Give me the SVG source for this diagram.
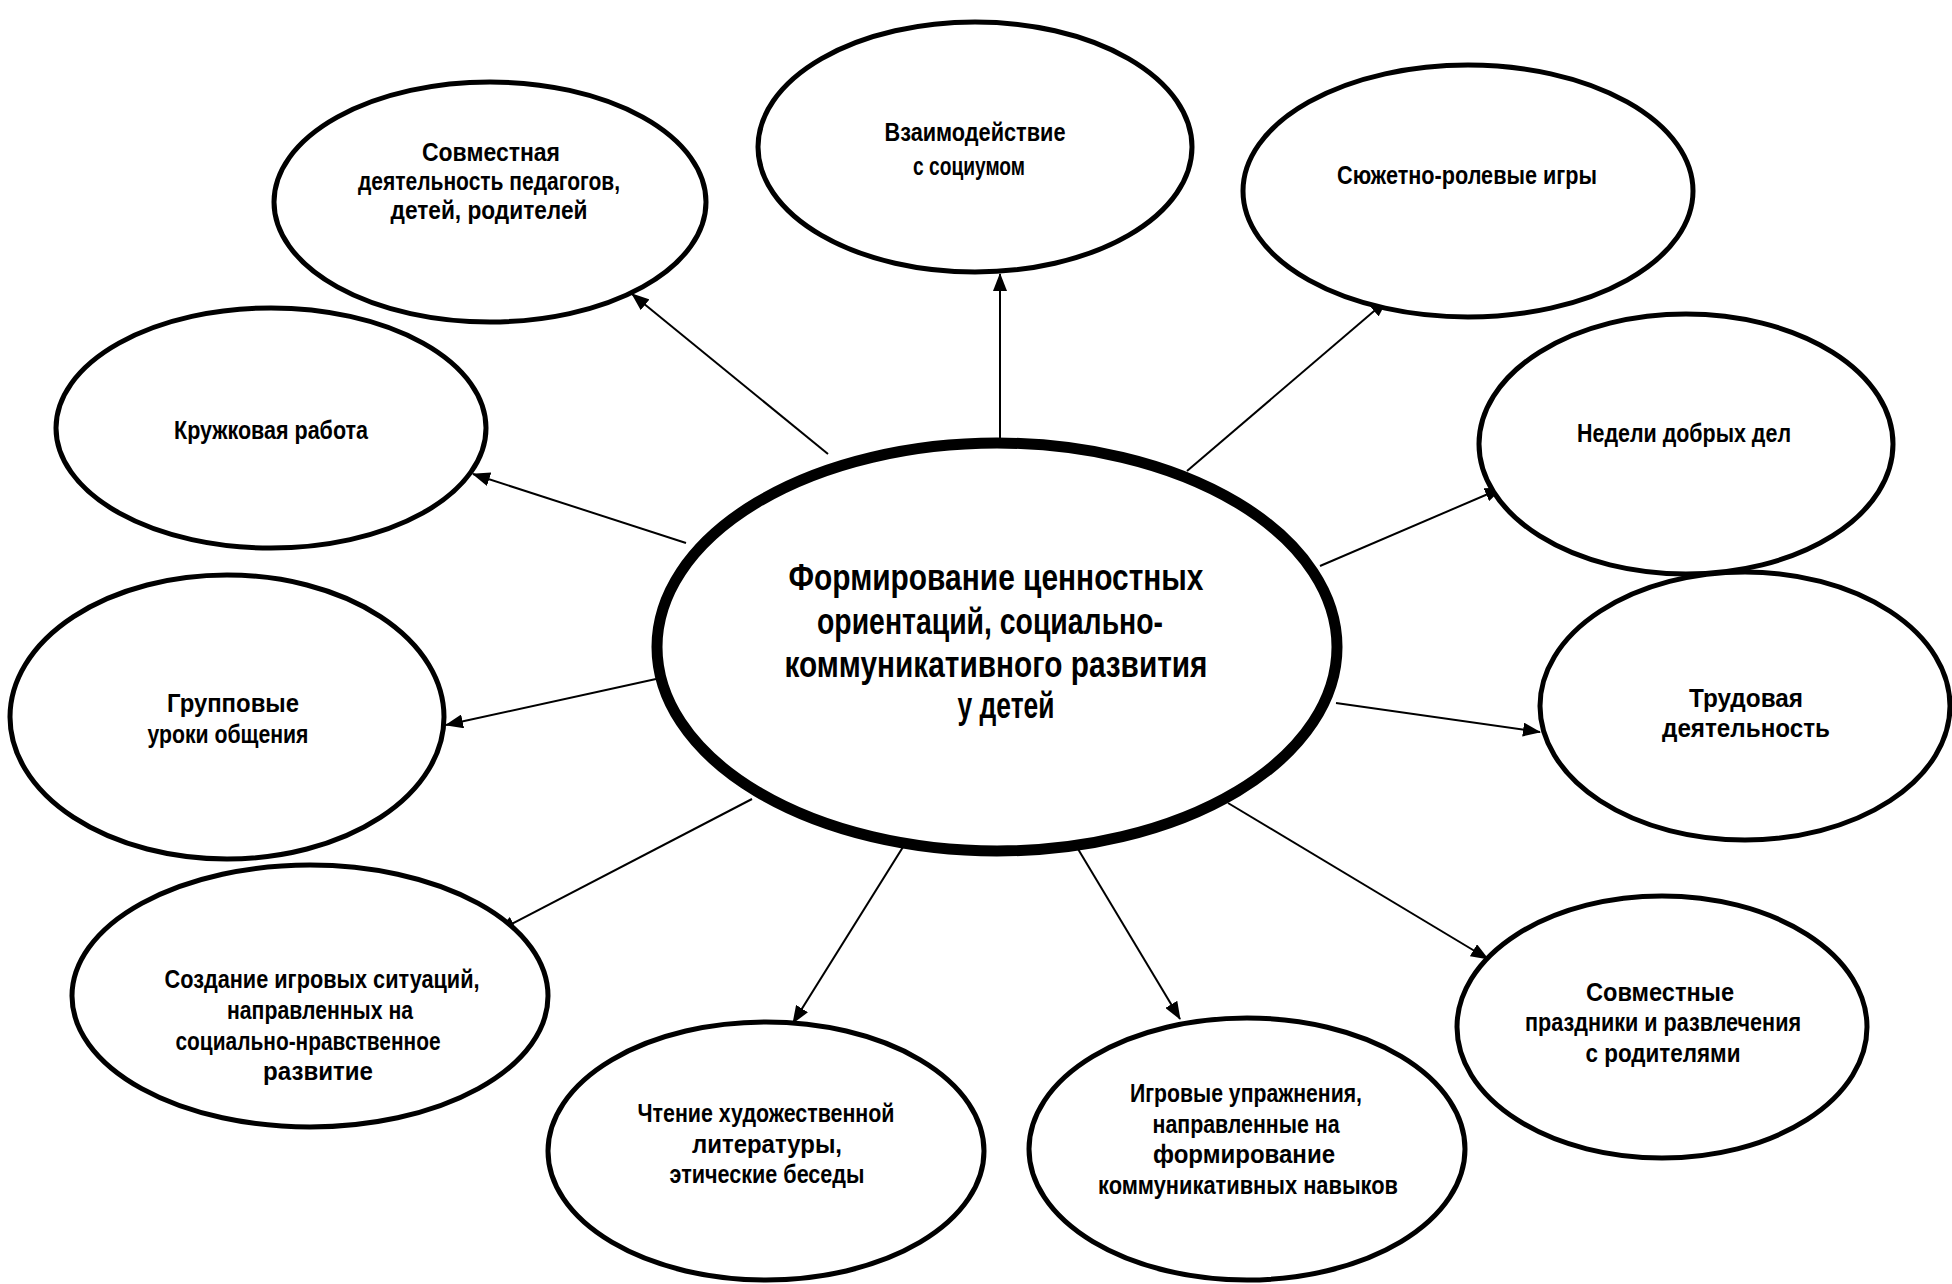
<svg xmlns="http://www.w3.org/2000/svg" width="1952" height="1284" viewBox="0 0 1952 1284">
<style>
.node{fill:#fff;stroke:#000;stroke-width:5}
.main{fill:#fff;stroke:#000;stroke-width:11}
.t{font-family:"Liberation Sans Narrow","Liberation Sans",Arial,sans-serif;font-weight:bold;font-size:25px;fill:#000;text-anchor:middle}
.tm{font-family:"Liberation Sans Narrow","Liberation Sans",Arial,sans-serif;font-weight:bold;font-size:36px;fill:#000;text-anchor:middle}
.c{stroke:#000;stroke-width:2;fill:none;marker-end:url(#ah)}
</style>
<defs>
<marker id="ah" markerUnits="userSpaceOnUse" markerWidth="18" markerHeight="14" viewBox="0 0 18 14" refX="17" refY="7" orient="auto">
<path d="M0,0 L18,7 L0,14 Z" fill="#000"/>
</marker>
</defs>
<rect width="1952" height="1284" fill="#fff"/>
<g id="connectors">
<line class="c" x1="828" y1="454" x2="632" y2="294"/>
<line class="c" x1="1000" y1="440" x2="1000" y2="274"/>
<line class="c" x1="1187" y1="471" x2="1387" y2="300"/>
<line class="c" x1="686" y1="543" x2="473" y2="474"/>
<line class="c" x1="656" y1="679" x2="446" y2="725"/>
<line class="c" x1="752" y1="799" x2="498" y2="931"/>
<line class="c" x1="903" y1="847" x2="793" y2="1023"/>
<line class="c" x1="1078" y1="849" x2="1180" y2="1019"/>
<line class="c" x1="1228" y1="803" x2="1488" y2="959"/>
<line class="c" x1="1336" y1="703" x2="1540" y2="732"/>
<line class="c" x1="1320" y1="566" x2="1502" y2="488"/>
</g>
<g id="center">
<ellipse class="main" cx="997" cy="647" rx="340" ry="204"/>
<text class="tm" x="996" y="590" textLength="415" lengthAdjust="spacingAndGlyphs">Формирование ценностных</text>
<text class="tm" x="990" y="634" textLength="346" lengthAdjust="spacingAndGlyphs">ориентаций, социально-</text>
<text class="tm" x="996" y="677" textLength="423" lengthAdjust="spacingAndGlyphs">коммуникативного развития</text>
<text class="tm" x="1006" y="718" textLength="97" lengthAdjust="spacingAndGlyphs">у детей</text>
</g>
<g id="n-sovmestnaya">
<ellipse class="node" cx="490" cy="202" rx="216" ry="120"/>
<text class="t" x="491" y="161" textLength="138" lengthAdjust="spacingAndGlyphs">Совместная</text>
<text class="t" x="489" y="190" textLength="262" lengthAdjust="spacingAndGlyphs">деятельность педагогов,</text>
<text class="t" x="489" y="219" textLength="197" lengthAdjust="spacingAndGlyphs">детей, родителей</text>
</g>
<g id="n-vzaimodeystvie">
<ellipse class="node" cx="975" cy="147" rx="217" ry="125"/>
<text class="t" x="975" y="141" textLength="181" lengthAdjust="spacingAndGlyphs">Взаимодействие</text>
<text class="t" x="969" y="175" textLength="112" lengthAdjust="spacingAndGlyphs">с социумом</text>
</g>
<g id="n-syuzhetno">
<ellipse class="node" cx="1468" cy="191" rx="225" ry="126"/>
<text class="t" x="1467" y="184" textLength="260" lengthAdjust="spacingAndGlyphs">Сюжетно-ролевые игры</text>
</g>
<g id="n-kruzhkovaya">
<ellipse class="node" cx="271" cy="428" rx="215" ry="120"/>
<text class="t" x="271" y="439" textLength="194" lengthAdjust="spacingAndGlyphs">Кружковая работа</text>
</g>
<g id="n-gruppovye">
<ellipse class="node" cx="227" cy="717" rx="217" ry="142"/>
<text class="t" x="233" y="712" textLength="132" lengthAdjust="spacingAndGlyphs">Групповые</text>
<text class="t" x="228" y="743" textLength="161" lengthAdjust="spacingAndGlyphs">уроки общения</text>
</g>
<g id="n-nedeli">
<ellipse class="node" cx="1686" cy="444" rx="207" ry="130"/>
<text class="t" x="1684" y="442" textLength="214" lengthAdjust="spacingAndGlyphs">Недели добрых дел</text>
</g>
<g id="n-trudovaya">
<ellipse class="node" cx="1745" cy="706" rx="205" ry="134"/>
<text class="t" x="1746" y="707" textLength="114" lengthAdjust="spacingAndGlyphs">Трудовая</text>
<text class="t" x="1746" y="737" textLength="168" lengthAdjust="spacingAndGlyphs">деятельность</text>
</g>
<g id="n-sozdanie">
<ellipse class="node" cx="310" cy="996" rx="238" ry="131"/>
<text class="t" x="322" y="988" textLength="315" lengthAdjust="spacingAndGlyphs">Создание игровых ситуаций,</text>
<text class="t" x="320" y="1019" textLength="186" lengthAdjust="spacingAndGlyphs">направленных на</text>
<text class="t" x="308" y="1050" textLength="265" lengthAdjust="spacingAndGlyphs">социально-нравственное</text>
<text class="t" x="318" y="1080" textLength="110" lengthAdjust="spacingAndGlyphs">развитие</text>
</g>
<g id="n-chtenie">
<ellipse class="node" cx="766" cy="1151" rx="218" ry="129"/>
<text class="t" x="766" y="1122" textLength="257" lengthAdjust="spacingAndGlyphs">Чтение художественной</text>
<text class="t" x="767" y="1153" textLength="150" lengthAdjust="spacingAndGlyphs">литературы,</text>
<text class="t" x="767" y="1183" textLength="195" lengthAdjust="spacingAndGlyphs">этические беседы</text>
</g>
<g id="n-igrovye">
<ellipse class="node" cx="1247" cy="1149" rx="218" ry="131"/>
<text class="t" x="1246" y="1102" textLength="232" lengthAdjust="spacingAndGlyphs">Игровые упражнения,</text>
<text class="t" x="1246" y="1133" textLength="187" lengthAdjust="spacingAndGlyphs">направленные на</text>
<text class="t" x="1244" y="1163" textLength="182" lengthAdjust="spacingAndGlyphs">формирование</text>
<text class="t" x="1248" y="1194" textLength="300" lengthAdjust="spacingAndGlyphs">коммуникативных навыков</text>
</g>
<g id="n-prazdniki">
<ellipse class="node" cx="1662" cy="1027" rx="205" ry="131"/>
<text class="t" x="1660" y="1001" textLength="148" lengthAdjust="spacingAndGlyphs">Совместные</text>
<text class="t" x="1663" y="1031" textLength="276" lengthAdjust="spacingAndGlyphs">праздники и развлечения</text>
<text class="t" x="1663" y="1062" textLength="155" lengthAdjust="spacingAndGlyphs">с родителями</text>
</g>
</svg>
